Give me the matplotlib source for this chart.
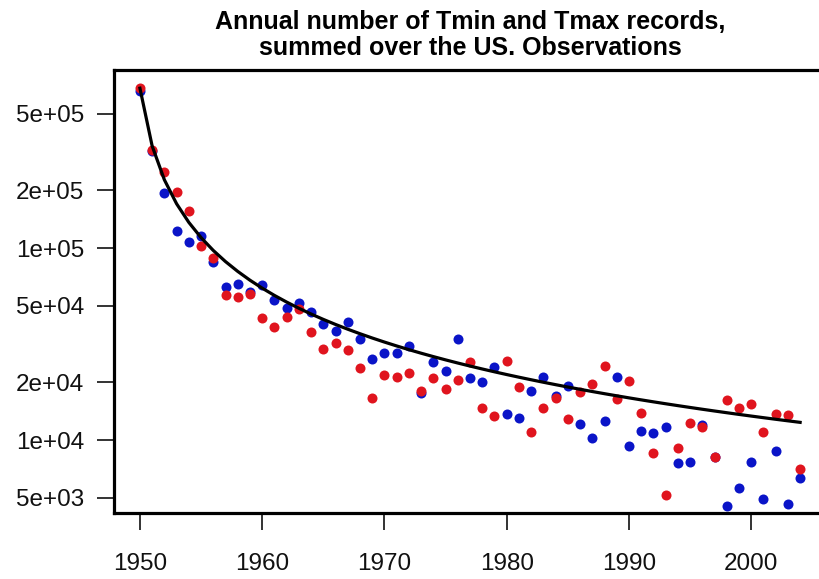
import matplotlib
matplotlib.use('Agg')
import matplotlib.pyplot as plt
import numpy as np

plt.rcParams['font.family'] = ['Liberation Sans', 'DejaVu Sans']

years = list(range(1950, 2005))

# Tmax records (red)
tmax = [680000, 324000, 249000, 196000, 156000, 102000, 88700, 56900, 55600, 57500,
        43200, 38800, 43700, 48100, 36500, 29800, 32000, 29400, 23700, 16500,
        21800, 21300, 22300, 18000, 21000, 18400, 20500, 25500, 14700, 13300,
        25800, 18900, 11000, 14700, 16500, 12900, 17800, 19600, 24300, 16400,
        20300, 13800, 8550, 5170, 9100, 12300, 11700, 8150, 16200, 14700,
        15400, 11000, 13700, 13500, 7060]

# Tmin records (blue)
tmin = [660000, 320000, 193000, 123000, 107000, 115000, 84500, 62600, 64900, 59000,
        64200, 53600, 48700, 51700, 46400, 40200, 37000, 41200, 33600, 26400,
        28400, 28400, 30900, 17500, 25500, 22900, 33600, 21000, 20000, 24000,
        13700, 13000, 18000, 21300, 16900, 19100, 12100, 10200, 12600, 21300,
        9300, 11100, 10900, 11700, 7590, 7680, 12000, 8200, 4530, 5620,
        7680, 4930, 8770, 4640, 6340]

# expected number of records
expected = [680000, 340000, 226667, 170000, 136000, 113333, 97143, 85000, 75556, 68000,
            61818, 56667, 52308, 48571, 45333, 42500, 40000, 37778, 35789, 34000,
            32381, 30909, 29565, 28333, 27200, 26154, 25185, 24286, 23448, 22667,
            21935, 21250, 20606, 20000, 19429, 18889, 18378, 17895, 17436, 17000,
            16585, 16190, 15814, 15455, 15111, 14783, 14468, 14167, 13878, 13600,
            13333, 13077, 12830, 12593, 12364]

yticks = [5e3, 1e4, 2e4, 5e4, 1e5, 2e5, 5e5]
ytick_labels = ['5e+03', '1e+04', '2e+04', '5e+04', '1e+05', '2e+05', '5e+05']
xticks = [1950, 1960, 1970, 1980, 1990, 2000]

fig = plt.figure(figsize=(8.19, 5.79), dpi=100)
ax = fig.add_axes([0.1386, 0.114, 0.8706, 0.765])

ax.scatter(years, tmin, s=52, color='#0a14c8', zorder=2, linewidths=0)
ax.scatter(years, tmax, s=52, color='#e0141e', zorder=3, linewidths=0)
ax.plot(years, expected, color='black', lw=2.3, zorder=4)

ax.set_yscale('log')
ax.set_xlim(1947.84, 2006.16)
ax.set_ylim(4170, 845000)
ax.set_yticks(yticks)
ax.set_yticklabels(ytick_labels)
ax.minorticks_off()
ax.set_xticks(xticks)
ax.set_xticklabels([str(x) for x in xticks])
ax.tick_params(axis='both', length=12, width=1.4, labelsize=17.5, color='#333333',
               labelcolor='#111111')
ax.tick_params(axis='y', pad=9)
ax.tick_params(axis='x', pad=17)

for s in ax.spines.values():
    s.set_linewidth(2.3)

ax.set_title('Annual number of Tmin and Tmax records,\nsummed over the US. Observations',
             fontsize=18, fontweight='bold', pad=11, linespacing=1.1)

fig.savefig('out.png', dpi=100)
